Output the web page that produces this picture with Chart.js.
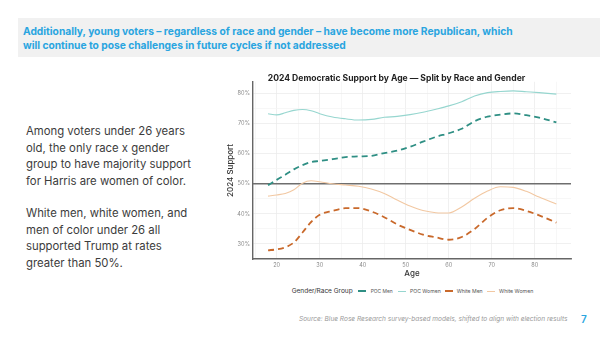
<!DOCTYPE html>
<html><head><meta charset="utf-8">
<script src="https://cdn.jsdelivr.net/npm/chart.js@4"></script>
<style>
html,body{margin:0;padding:0;background:#fff;width:600px;height:337px;overflow:hidden;font-family:"Inter","Noto Sans",sans-serif;}
.abs{position:absolute;white-space:nowrap;line-height:1;}
#hdrbox{position:absolute;left:18px;top:18px;width:582px;height:39px;background:#f1f1f1;}
.hdr{font-weight:700;color:#2aa5e0;font-size:12px;}
.side{color:#3c3c3c;font-size:12.6px;}
#wrap{position:absolute;left:222px;top:63px;width:360px;height:215px;}
.lg{font-size:7.4px;color:#333;}
.it{font-size:5.6px;color:#555;}
.sw{position:absolute;width:8px;height:2px;}
.src{font-size:7.1px;font-style:italic;color:#9a9a9a;}
.pg{font-size:10px;color:#2aa5e0;font-weight:600;}
</style></head><body>
<div id="hdrbox"></div>
<div id="texts"></div>
<div id="wrap"><canvas id="c" width="360" height="215"></canvas></div>
<script>
const ages = [18,20,22,24,26,28,30,33,36,39,42,45,48,51,54,57,60,63,66,69,72,75,78,81,85];
const pocWomen = [73.3,72.9,73.6,74.4,74.7,74.3,73.3,72.2,71.6,71.2,71.4,72.1,72.4,73.0,73.8,74.8,75.9,77.3,79.2,80.3,80.7,80.9,80.6,80.3,79.8];
const pocMen = [49.5,51.3,53.0,54.8,56.2,57.2,57.6,58.2,58.9,59.1,59.3,60.2,61.0,62.3,64.0,65.6,66.8,68.3,70.8,72.3,73.0,73.4,72.8,72.0,70.4];
const whiteWomen = [45.9,46.3,46.8,48.0,50.2,51.0,50.7,50.0,49.6,49.2,48.3,46.8,44.6,42.6,41.1,40.4,40.3,42.3,45.2,47.6,49.0,48.8,47.5,45.6,43.3];
const whiteMen = [27.9,28.2,28.9,30.5,33.8,37.3,39.7,41.0,41.9,41.9,40.8,38.9,36.5,34.7,33.1,32.2,31.4,32.3,35.0,38.7,41.2,41.9,41.0,39.5,37.1];
const xTicks = [20,30,40,50,60,70,80];
const yTicks = [30,40,50,60,70,80];
const xMinor = [15,25,35,45,55,65,75,85];
const yMinor = [35,45,55,65,75];
const groups = ["POC Men","POC Women","White Men","White Women"];
const colors = ['#2f8f84','#96d6cf','#c9692b','#f2c8a2'];

// text placement: [text, class, left, centerY, targetWidth]
const textItems = [
  ["Additionally, young voters – regardless of race and gender – have become more Republican, which","hdr",23,31.5,490],
  ["will continue to pose challenges in future cycles if not addressed","hdr",23,45.5,null],
  ["Among voters under 26 years","side",26,132,159],
  ["old, the only race x gender","side",26,148.5,null],
  ["group to have majority support","side",26,165,null],
  ["for Harris are women of color.","side",26,181.5,null],
  ["White men, white women, and","side",26,214,null],
  ["men of color under 26 all","side",26,230.5,null],
  ["supported Trump at rates","side",26,247,null],
  ["greater than 50%.","side",26,263.5,null],
  ["Gender/Race Group","lg",291.7,291.3,61],
  [groups[0],"it",370.7,291.3,22],
  [groups[1],"it",410,291.3,30.7],
  [groups[2],"it",456.7,291.3,26],
  [groups[3],"it",499,291.3,34.3],
  ["Source: Blue Rose Research survey-based models, shifted to align with election results","src",299,319,269],
  ["7","pg",581,318.5,null]
];
const host = document.getElementById('texts');
const scaleByClass = {};
textItems.forEach(([t,cls,l,cy,w])=>{
  const s=document.createElement('span');s.className='abs '+cls;s.textContent=t;host.appendChild(s);
  if(w){const base=parseFloat(getComputedStyle(s).fontSize);const r=s.getBoundingClientRect().width;s.style.fontSize=(base*w/r)+'px';
    if(cls==='hdr'||cls==='side') scaleByClass[cls]=base*w/r;}
  else if(scaleByClass[cls]) s.style.fontSize=scaleByClass[cls]+'px';
  const h=s.getBoundingClientRect().height;
  s.style.left=l+'px';s.style.top=(cy-h/2)+'px';
});
[[358.3,0],[398.3,1],[445,2],[487.3,3]].forEach(([l,i])=>{
  const d=document.createElement('div');d.className='sw';d.style.left=l+'px';d.style.top=(i%2?290.6:290.3)+'px';
  d.style.height=(i%2?1.3:2)+'px';d.style.background=colors[i];host.appendChild(d);
});

const pts = arr => arr.map((v,i)=>({x:ages[i],y:v}));
const refLine = {
  id:'refLine',
  beforeDatasetsDraw(chart){
    const {ctx, chartArea:a, scales:{y}} = chart;
    const py = y.getPixelForValue(50);
    ctx.save();ctx.strokeStyle='#6e6e6e';ctx.lineWidth=1.4;
    ctx.beginPath();ctx.moveTo(a.left,py);ctx.lineTo(a.right,py);ctx.stroke();ctx.restore();
  }
};
const tickSet = (major, minor) => function(scale){
  scale.ticks = major.concat(minor).sort((a,b)=>a-b).map(v=>({value:v, major: major.includes(v)}));
};
new Chart(document.getElementById('c'),{
  type:'line',
  data:{datasets:[
    {label:groups[0],data:pts(pocMen),borderColor:colors[0],borderWidth:1.8,borderDash:[6,4],pointRadius:0,cubicInterpolationMode:'monotone'},
    {label:groups[1],data:pts(pocWomen),borderColor:colors[1],borderWidth:1.1,pointRadius:0,cubicInterpolationMode:'monotone'},
    {label:groups[2],data:pts(whiteMen),borderColor:colors[2],borderWidth:1.8,borderDash:[6,4],pointRadius:0,cubicInterpolationMode:'monotone'},
    {label:groups[3],data:pts(whiteWomen),borderColor:colors[3],borderWidth:1.1,pointRadius:0,cubicInterpolationMode:'monotone'}
  ]},
  options:{
    responsive:false,animation:false,
    layout:{padding:{left:0,right:11,top:0,bottom:0}},
    plugins:{
      legend:{display:false},tooltip:{enabled:false},
      title:{display:true,text:'2024 Democratic Support by Age — Split by Race and Gender',color:'#222',font:{family:'Inter',size:8.6,weight:'700'},padding:{top:10,bottom:-1.5}}
    },
    scales:{
      x:{type:'linear',min:14.5,max:88.4,afterBuildTicks:tickSet(xTicks,xMinor),afterFit:s=>{s.height=19;},
        grid:{color:c=>c.tick&&c.tick.major?'#ececec':'#f5f5f5',lineWidth:0.8,drawTicks:false},
        border:{display:true,color:'#666',width:1.4},
        ticks:{padding:2.5,color:'#8a8a8a',font:{family:'Inter',size:5.6},maxRotation:0,autoSkip:false,callback:v=>xTicks.includes(v)?String(v):''},
        title:{display:true,text:'Age',color:'#333',font:{family:'Inter',size:8,weight:'500'},padding:{top:0,bottom:0}}},
      y:{min:25,max:83.9,afterBuildTicks:tickSet(yTicks,yMinor),afterFit:s=>{s.width=31;},
        grid:{color:c=>c.tick&&c.tick.major?'#ececec':'#f5f5f5',lineWidth:0.8,drawTicks:false},
        border:{display:true,color:'#666',width:1.4},
        ticks:{padding:3,color:'#8a8a8a',font:{family:'Inter',size:5.6},autoSkip:false,callback:v=>yTicks.includes(v)?v+'%':''},
        title:{display:true,text:'2024 Support',color:'#333',font:{family:'Inter',size:8,weight:'500'},padding:{top:3.5,bottom:0}}}
    }
  },
  plugins:[refLine]
});
</script>
</body></html>
